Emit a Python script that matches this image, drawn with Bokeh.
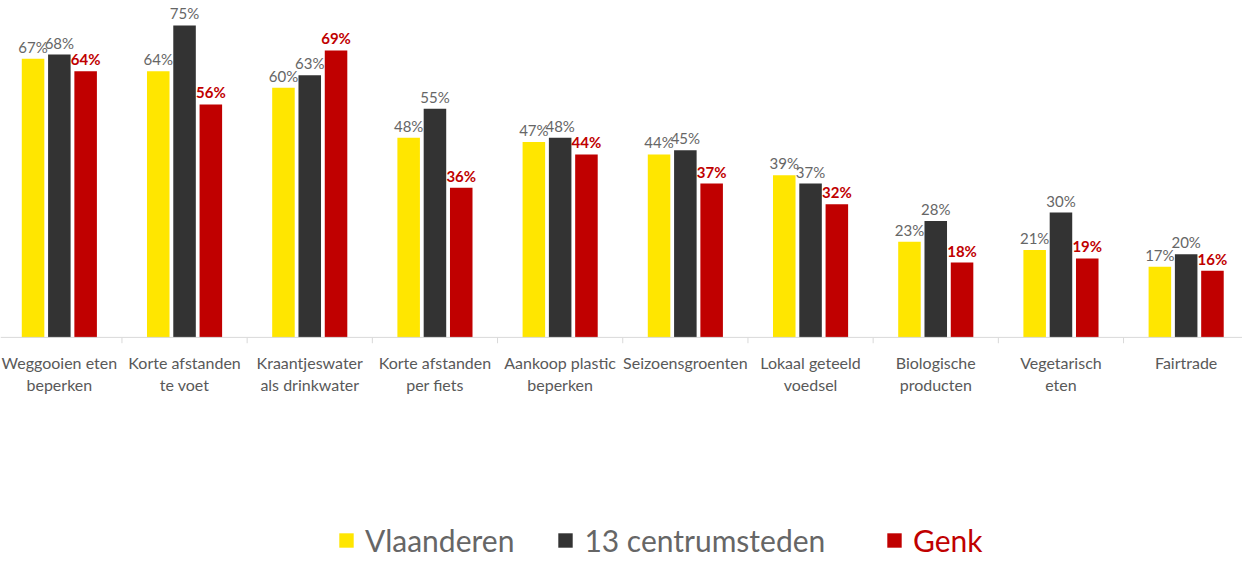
from bokeh.plotting import figure
from bokeh.models import (ColumnDataSource, Range1d, LabelSet, Legend, LegendItem, Span)
from bokeh.core.properties import value
from bokeh.transform import dodge
from bokeh.embed import file_html
from bokeh.resources import INLINE

categories = ["Weggooien eten\nbeperken", "Korte afstanden\nte voet", "Kraantjeswater\nals drinkwater",
              "Korte afstanden\nper fiets", "Aankoop plastic\nbeperken", "Seizoensgroenten",
              "Lokaal geteeld\nvoedsel", "Biologische\nproducten", "Vegetarisch\neten", "Fairtrade"]
series_names = ["Vlaanderen", "13 centrumsteden", "Genk"]
vlaanderen = [67, 64, 60, 48, 47, 44, 39, 23, 21, 17]
centrumsteden = [68, 75, 63, 55, 48, 45, 37, 28, 30, 20]
genk = [64, 56, 69, 36, 44, 37, 32, 18, 19, 16]

colors = ["#FFE600", "#333333", "#C00000"]
label_colors = ["#666666", "#666666", "#C00000"]
FONT = "Lato"

x = list(range(len(categories)))
line1 = [c.split("\n")[0] for c in categories]
line2 = [c.split("\n")[1] if "\n" in c else "" for c in categories]
src = ColumnDataSource(dict(
    x=x, c1=line1, c2=line2, zero=[0] * len(x),
    v0=vlaanderen, v1=centrumsteden, v2=genk,
    l0=[f"{v}%" for v in vlaanderen],
    l1=[f"{v}%" for v in centrumsteden],
    l2=[f"{v}%" for v in genk],
))
bounds = [i - 0.5 for i in range(len(categories) + 1)]

p = figure(width=1242, height=564, output_backend="svg", toolbar_location=None,
           x_range=Range1d(-0.47, 9.45), y_range=Range1d(-54.6, 81),
           min_border_left=0, min_border_right=0, min_border_top=0, min_border_bottom=0)
p.outline_line_color = None
p.background_fill_color = "white"
p.border_fill_color = "white"
p.grid.visible = False
p.axis.visible = False

# baseline and category separators
p.add_layout(Span(location=0, dimension="width", line_color="#D9D9D9", line_width=1))
p.segment(x0=bounds, y0=[0] * len(bounds), x1=bounds, y1=[-1.4] * len(bounds),
          line_color="#D9D9D9", line_width=1)

offsets = [-0.21, 0.0, 0.21]
renderers = []
for i, off in enumerate(offsets):
    r = p.vbar(x=dodge("x", off, range=p.x_range), top=f"v{i}", width=0.18, bottom=0,
               source=src, fill_color=colors[i], line_color=None)
    renderers.append(r)
    ls = LabelSet(x=dodge("x", off, range=p.x_range), y=f"v{i}", text=f"l{i}", source=src,
                  text_align="center", text_baseline="bottom", y_offset=3,
                  text_font=value(FONT), text_font_size="15px", text_color=label_colors[i],
                  text_font_style="bold" if i == 2 else "normal")
    p.add_layout(ls)

for col, off in (("c1", -16), ("c2", -38)):
    p.add_layout(LabelSet(x="x", y="zero", text=col, source=src, y_offset=off,
                          text_align="center", text_baseline="top",
                          text_font=value(FONT), text_font_size="16px", text_color="#595959"))

leg1 = Legend(items=[LegendItem(label=series_names[0], renderers=[renderers[0]]),
                     LegendItem(label=series_names[1], renderers=[renderers[1]])],
              orientation="horizontal", location=(337, 6),
              label_text_font=FONT, label_text_font_size="30px", label_text_color="#666666",
              glyph_width=18, glyph_height=18, label_standoff=10, spacing=42,
              padding=0, margin=0, border_line_color=None, background_fill_alpha=0)
leg2 = Legend(items=[LegendItem(label=series_names[2], renderers=[renderers[2]])],
              orientation="horizontal", location=(885, 6),
              label_text_font=FONT, label_text_font_size="30px", label_text_color="#C00000",
              glyph_width=18, glyph_height=18, label_standoff=10,
              padding=0, margin=0, border_line_color=None, background_fill_alpha=0)
p.add_layout(leg1, "center")
p.add_layout(leg2, "center")

open("out.html", "w").write(file_html(p, INLINE))
